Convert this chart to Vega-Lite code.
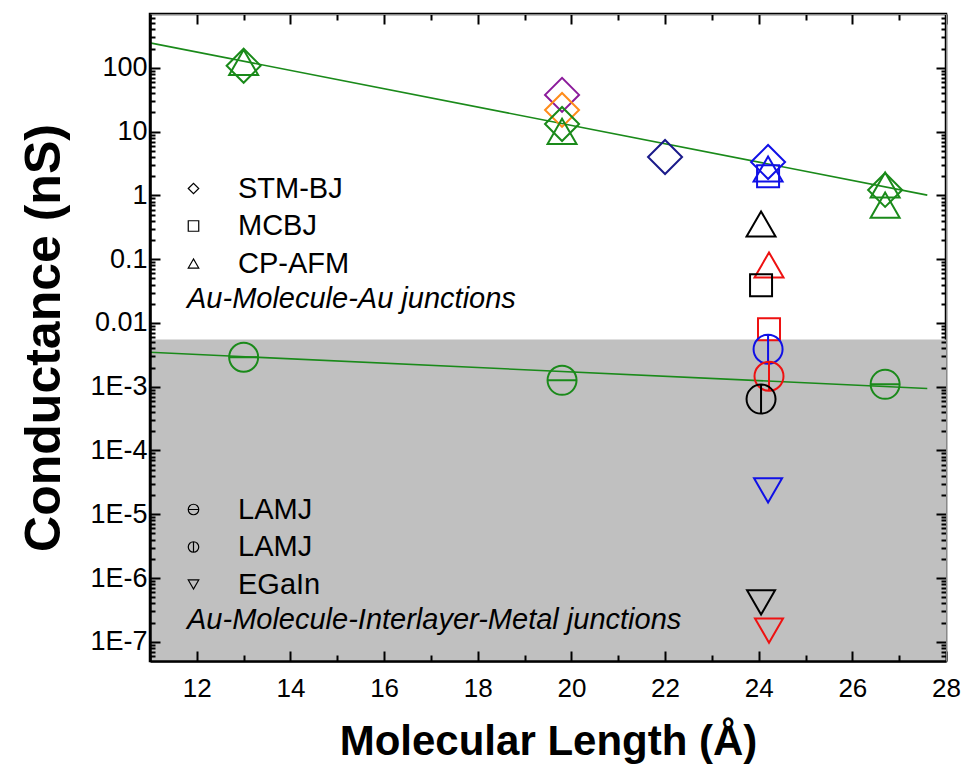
{
  "$schema": "https://vega.github.io/schema/vega-lite/v6.json",
  "width": 796,
  "height": 647,
  "autosize": {"type": "none"},
  "padding": {"left": 150, "top": 14, "right": 21, "bottom": 109},
  "background": "white",
  "config": {
    "font": "Liberation Sans",
    "view": {"stroke": "black", "strokeWidth": 2.5},
    "axis": {"grid": false, "labelColor": "black", "titleColor": "black", "labelFont": "Liberation Sans", "titleFont": "Liberation Sans", "labelFlush": false, "labelOverlap": false, "labelBound": false}
  },
  "datasets": {
    "band": [{"x1": 11, "x2": 28, "lo": 5e-8, "hi": 0.0055}],
    "fits": [
      {"length": 11, "G": 247, "fit": "upper"},
      {"length": 27.6, "G": 1.01, "fit": "upper"},
      {"length": 11, "G": 0.00347, "fit": "lower"},
      {"length": 27.6, "G": 0.00094, "fit": "lower"}
    ],
    "upper": [
      {"length": 13.0, "G": 108, "method": "STM-BJ", "series": "A"},
      {"length": 13.0, "G": 122, "method": "CP-AFM", "series": "A"},
      {"length": 19.8, "G": 37.7, "method": "STM-BJ", "series": "B"},
      {"length": 19.8, "G": 21.9, "method": "STM-BJ", "series": "C"},
      {"length": 19.8, "G": 13.2, "method": "STM-BJ", "series": "A"},
      {"length": 19.8, "G": 10.1, "method": "CP-AFM", "series": "A"},
      {"length": 22.0, "G": 4.0, "method": "STM-BJ", "series": "D"},
      {"length": 24.2, "G": 3.34, "method": "STM-BJ", "series": "E"},
      {"length": 24.2, "G": 2.6, "method": "CP-AFM", "series": "E"},
      {"length": 24.2, "G": 2.0, "method": "MCBJ", "series": "E"},
      {"length": 24.05, "G": 0.356, "method": "CP-AFM", "series": "F"},
      {"length": 24.22, "G": 0.081, "method": "CP-AFM", "series": "G"},
      {"length": 24.05, "G": 0.039, "method": "MCBJ", "series": "F"},
      {"length": 24.22, "G": 0.008, "method": "MCBJ", "series": "G"},
      {"length": 26.7, "G": 1.22, "method": "STM-BJ", "series": "A"},
      {"length": 26.7, "G": 1.46, "method": "CP-AFM", "series": "A"},
      {"length": 26.7, "G": 0.706, "method": "CP-AFM", "series": "A"}
    ],
    "lower": [
      {"length": 13.0, "G": 0.0029, "method": "LAMJ-h", "series": "A"},
      {"length": 19.8, "G": 0.00126, "method": "LAMJ-h", "series": "A"},
      {"length": 26.7, "G": 0.00109, "method": "LAMJ-h", "series": "A"},
      {"length": 24.2, "G": 0.00388, "method": "LAMJ-v", "series": "E"},
      {"length": 24.22, "G": 0.00146, "method": "LAMJ-v", "series": "G"},
      {"length": 24.05, "G": 0.00064, "method": "LAMJ-v", "series": "F"},
      {"length": 24.2, "G": 2.37e-5, "method": "EGaIn", "series": "E"},
      {"length": 24.05, "G": 4.14e-7, "method": "EGaIn", "series": "F"},
      {"length": 24.22, "G": 1.5e-7, "method": "EGaIn", "series": "G"}
    ]
  },
  "layer": [
    {
      "data": {"name": "band"},
      "mark": {"type": "rect", "color": "#c0c0c0"},
      "encoding": {
        "x": {"field": "x1", "type": "quantitative", "scale": {"domain": [11, 28], "nice": false, "zero": false},
          "axis": {"orient": "bottom", "zindex": 1, "domainColor": "black", "domainWidth": 2.5,
            "values": [11, 12, 13, 14, 15, 16, 17, 18, 19, 20, 21, 22, 23, 24, 25, 26, 27, 28],
            "tickSize": {"condition": {"test": "datum.value % 2 == 0", "value": -10}, "value": -6},
            "tickWidth": 2, "tickColor": "black", "labelFontSize": 26, "labelPadding": 24,
            "labelExpr": "datum.value % 2 == 0 ? datum.label : ''",
            "title": "Molecular Length (Å)", "titleFontSize": 42, "titleFontWeight": "bold", "titlePadding": 16}},
        "x2": {"field": "x2"},
        "y": {"field": "lo", "type": "quantitative", "scale": {"type": "log", "domain": [5e-8, 700], "nice": false},
          "axis": {"orient": "left", "zindex": 1, "domainColor": "black", "domainWidth": 2.5,
            "values": [6e-8, 7e-8, 8e-8, 9e-8, 1e-7, 2e-7, 3e-7, 4e-7, 5e-7, 6e-7, 7e-7, 8e-7, 9e-7, 1e-6, 2e-6, 3e-6, 4e-6, 5e-6, 6e-6, 7e-6, 8e-6, 9e-6, 1e-5, 2e-5, 3e-5, 4e-5, 5e-5, 6e-5, 7e-5, 8e-5, 9e-5, 1e-4, 2e-4, 3e-4, 4e-4, 5e-4, 6e-4, 7e-4, 8e-4, 9e-4, 0.001, 0.002, 0.003, 0.004, 0.005, 0.006, 0.007, 0.008, 0.009, 0.01, 0.02, 0.03, 0.04, 0.05, 0.06, 0.07, 0.08, 0.09, 0.1, 0.2, 0.3, 0.4, 0.5, 0.6, 0.7, 0.8, 0.9, 1, 2, 3, 4, 5, 6, 7, 8, 9, 10, 20, 30, 40, 50, 60, 70, 80, 90, 100, 200, 300, 400, 500, 600],
            "tickSize": {"condition": {"test": "abs(log(datum.value) / LN10 - round(log(datum.value) / LN10)) < 0.01", "value": -10}, "value": -5},
            "tickWidth": 2, "tickColor": "black", "labelFontSize": 27, "labelPadding": 13,
            "labelExpr": "abs(log(datum.value) / LN10 - round(log(datum.value) / LN10)) < 0.01 ? (datum.value >= 0.01 ? format(datum.value, '~g') : '1E' + round(log(datum.value) / LN10)) : ''",
            "title": "Conductance (nS)", "titleFontSize": 50, "titleFontWeight": "bold", "titlePadding": 20}},
        "y2": {"field": "hi"}
      }
    },
    {
      "data": {"name": "fits"},
      "mark": {"type": "line", "color": "#1a8a1a", "strokeWidth": 1.6},
      "encoding": {
        "x": {"field": "length", "type": "quantitative", "scale": {"domain": [11, 28], "nice": false, "zero": false}, "axis": null},
        "y": {"field": "G", "type": "quantitative", "scale": {"type": "log", "domain": [5e-8, 700], "nice": false}, "axis": null},
        "detail": {"field": "fit"}
      }
    },
    {
      "data": {"name": "upper"},
      "mark": {"type": "point", "filled": false, "strokeWidth": 2, "opacity": 1},
      "encoding": {
        "x": {"field": "length", "type": "quantitative", "scale": {"domain": [11, 28], "nice": false, "zero": false},
          "axis": {"orient": "top", "zindex": 1,
            "values": [11, 12, 13, 14, 15, 16, 17, 18, 19, 20, 21, 22, 23, 24, 25, 26, 27, 28],
            "tickSize": {"condition": {"test": "datum.value % 2 == 0", "value": -10}, "value": -6},
            "tickWidth": 2, "tickColor": "black", "labels": false, "title": null}},
        "y": {"field": "G", "type": "quantitative", "scale": {"type": "log", "domain": [5e-8, 700], "nice": false},
          "axis": {"orient": "right", "zindex": 1,
            "values": [6e-8, 7e-8, 8e-8, 9e-8, 1e-7, 2e-7, 3e-7, 4e-7, 5e-7, 6e-7, 7e-7, 8e-7, 9e-7, 1e-6, 2e-6, 3e-6, 4e-6, 5e-6, 6e-6, 7e-6, 8e-6, 9e-6, 1e-5, 2e-5, 3e-5, 4e-5, 5e-5, 6e-5, 7e-5, 8e-5, 9e-5, 1e-4, 2e-4, 3e-4, 4e-4, 5e-4, 6e-4, 7e-4, 8e-4, 9e-4, 0.001, 0.002, 0.003, 0.004, 0.005, 0.006, 0.007, 0.008, 0.009, 0.01, 0.02, 0.03, 0.04, 0.05, 0.06, 0.07, 0.08, 0.09, 0.1, 0.2, 0.3, 0.4, 0.5, 0.6, 0.7, 0.8, 0.9, 1, 2, 3, 4, 5, 6, 7, 8, 9, 10, 20, 30, 40, 50, 60, 70, 80, 90, 100, 200, 300, 400, 500, 600],
            "tickSize": {"condition": {"test": "abs(log(datum.value) / LN10 - round(log(datum.value) / LN10)) < 0.01", "value": -10}, "value": -5},
            "tickWidth": 2, "tickColor": "black", "labels": false, "title": null}},
        "color": {"field": "series", "type": "nominal", "scale": {"domain": ["A", "B", "C", "D", "E", "F", "G"], "range": ["#1a8a1a", "#8b1a9b", "#ff8c1a", "#1a1a8a", "#1010e6", "#000000", "#ee1111"]}, "legend": null},
        "size": {"field": "method", "type": "nominal", "scale": {"type": "ordinal", "domain": ["STM-BJ", "MCBJ", "CP-AFM", "LAMJ-h", "LAMJ-v", "EGaIn"], "range": [1156, 484, 841, 841, 841, 784]}, "legend": null},
        "shape": {"field": "method", "type": "nominal", "scale": {"domain": ["STM-BJ", "MCBJ", "CP-AFM"], "range": ["diamond", "square", "triangle-up"]},
          "legend": {"orient": "none", "legendX": 37, "legendY": 160, "direction": "vertical", "title": "Au-Molecule-Au junctions", "titleOrient": "bottom", "titleAnchor": "start", "titleFontStyle": "italic", "titleFontWeight": "normal", "titleFontSize": 29, "titleColor": "black", "titlePadding": 6, "titleLimit": 0, "labelFontSize": 29, "labelColor": "black", "labelLimit": 0, "labelOffset": 30, "symbolOffset": -8, "symbolSize": 110, "symbolStrokeColor": "black", "symbolStrokeWidth": 1.2, "symbolFillColor": "transparent", "rowPadding": 7.5, "padding": 0}}
      }
    },
    {
      "data": {"name": "lower"},
      "mark": {"type": "point", "filled": false, "strokeWidth": 2, "opacity": 1},
      "encoding": {
        "x": {"field": "length", "type": "quantitative", "scale": {"domain": [11, 28], "nice": false, "zero": false}, "axis": null},
        "y": {"field": "G", "type": "quantitative", "scale": {"type": "log", "domain": [5e-8, 700], "nice": false}, "axis": null},
        "color": {"field": "series", "type": "nominal", "scale": {"domain": ["A", "B", "C", "D", "E", "F", "G"], "range": ["#1a8a1a", "#8b1a9b", "#ff8c1a", "#1a1a8a", "#1010e6", "#000000", "#ee1111"]}, "legend": null},
        "size": {"field": "method", "type": "nominal", "scale": {"type": "ordinal", "domain": ["STM-BJ", "MCBJ", "CP-AFM", "LAMJ-h", "LAMJ-v", "EGaIn"], "range": [1156, 484, 841, 841, 841, 784]}, "legend": null},
        "shape": {"field": "method", "type": "nominal", "scale": {"domain": ["LAMJ-h", "LAMJ-v", "EGaIn"], "range": ["M-1,0A1,1,0,1,1,1,0A1,1,0,1,1,-1,0ZM-1,0L1,0", "M0,-1A1,1,0,1,1,0,1A1,1,0,1,1,0,-1ZM0,-1L0,1", "triangle-down"]},
          "legend": {"orient": "none", "legendX": 37, "legendY": 481, "direction": "vertical", "title": "Au-Molecule-Interlayer-Metal junctions", "titleOrient": "bottom", "titleAnchor": "start", "titleFontStyle": "italic", "titleFontWeight": "normal", "titleFontSize": 29, "titleColor": "black", "titlePadding": 6, "titleLimit": 0, "labelFontSize": 29, "labelColor": "black", "labelLimit": 0, "labelOffset": 30, "symbolOffset": -8, "labelExpr": "indexof(datum.label, 'LAMJ') >= 0 ? 'LAMJ' : datum.label", "symbolSize": 110, "symbolStrokeColor": "black", "symbolStrokeWidth": 1.2, "symbolFillColor": "transparent", "rowPadding": 7.5, "padding": 0}}
      }
    }
  ],
  "resolve": {
    "scale": {"x": "independent", "y": "independent", "shape": "independent"},
    "legend": {"shape": "independent"}
  }
}
